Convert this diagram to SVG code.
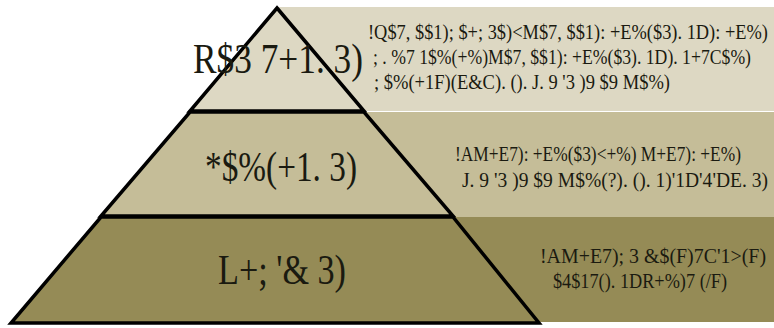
<svg xmlns="http://www.w3.org/2000/svg" width="774" height="328" viewBox="0 0 774 328">
<style>
.edge{stroke:#000;stroke-width:3.5;stroke-linejoin:miter}
.t{font-family:"Liberation Serif",serif;fill:#1a1a10}
.title{font-size:42px}
.desc{font-size:20px}
.c1{fill:#ddd8c3}
.c2{fill:#c5bd98}
.c3{fill:#958b56}
</style>
<rect width="774" height="328" fill="#ffffff"/>
<g id="tier-top">
<rect class="c1" x="277" y="7" width="497" height="104"/>
<polygon class="c1 edge" points="277,8 364,111 190,111"/>
<text class="t title" x="193" y="73" textLength="170" lengthAdjust="spacingAndGlyphs">R$3 7+1. 3)</text>
<text class="t desc" x="368" y="39" textLength="400" lengthAdjust="spacingAndGlyphs">!Q$7,  $$1); $+; 3$)&lt;M$7,  $$1): +E%($3). 1D): +E%)</text>
<text class="t desc" x="373" y="64" textLength="378" lengthAdjust="spacingAndGlyphs">; . %7 1$%(+%)M$7,  $$1): +E%($3). 1D). 1+7C$%)</text>
<text class="t desc" x="374" y="89" textLength="296" lengthAdjust="spacingAndGlyphs">; $%(+1F)(E&amp;C). (). J. 9 '3 )9 $9 M$%)</text>
</g>
<g id="tier-middle">
<rect class="c2" x="277" y="112" width="497" height="105"/>
<polygon class="c2 edge" points="190,112 364,112 453,216 101,216"/>
<text class="t title" x="205" y="181" textLength="152" lengthAdjust="spacingAndGlyphs">*$%(+1. 3)</text>
<text class="t desc" x="455" y="161" textLength="286" lengthAdjust="spacingAndGlyphs">!AM+E7): +E%($3)&lt;+%) M+E7): +E%)</text>
<text class="t desc" x="462" y="187" textLength="306" lengthAdjust="spacingAndGlyphs">J. 9 '3 )9 $9 M$%(?). (). 1)'1D'4'DE. 3)</text>
</g>
<g id="tier-bottom">
<rect class="c3" x="277" y="217" width="497" height="105"/>
<polygon class="c3 edge" points="101,217 453,217 539,323 11,323"/>
<text class="t title" x="218" y="284" textLength="128" lengthAdjust="spacingAndGlyphs">L+; '&amp; 3)</text>
<text class="t desc" x="540" y="263" textLength="226" lengthAdjust="spacingAndGlyphs">!AM+E7); 3 &amp;$(F)7C'1&gt;(F)</text>
<text class="t desc" x="553" y="288" textLength="174" lengthAdjust="spacingAndGlyphs">$4$17(). 1DR+%)7 (/F)</text>
</g>
</svg>
